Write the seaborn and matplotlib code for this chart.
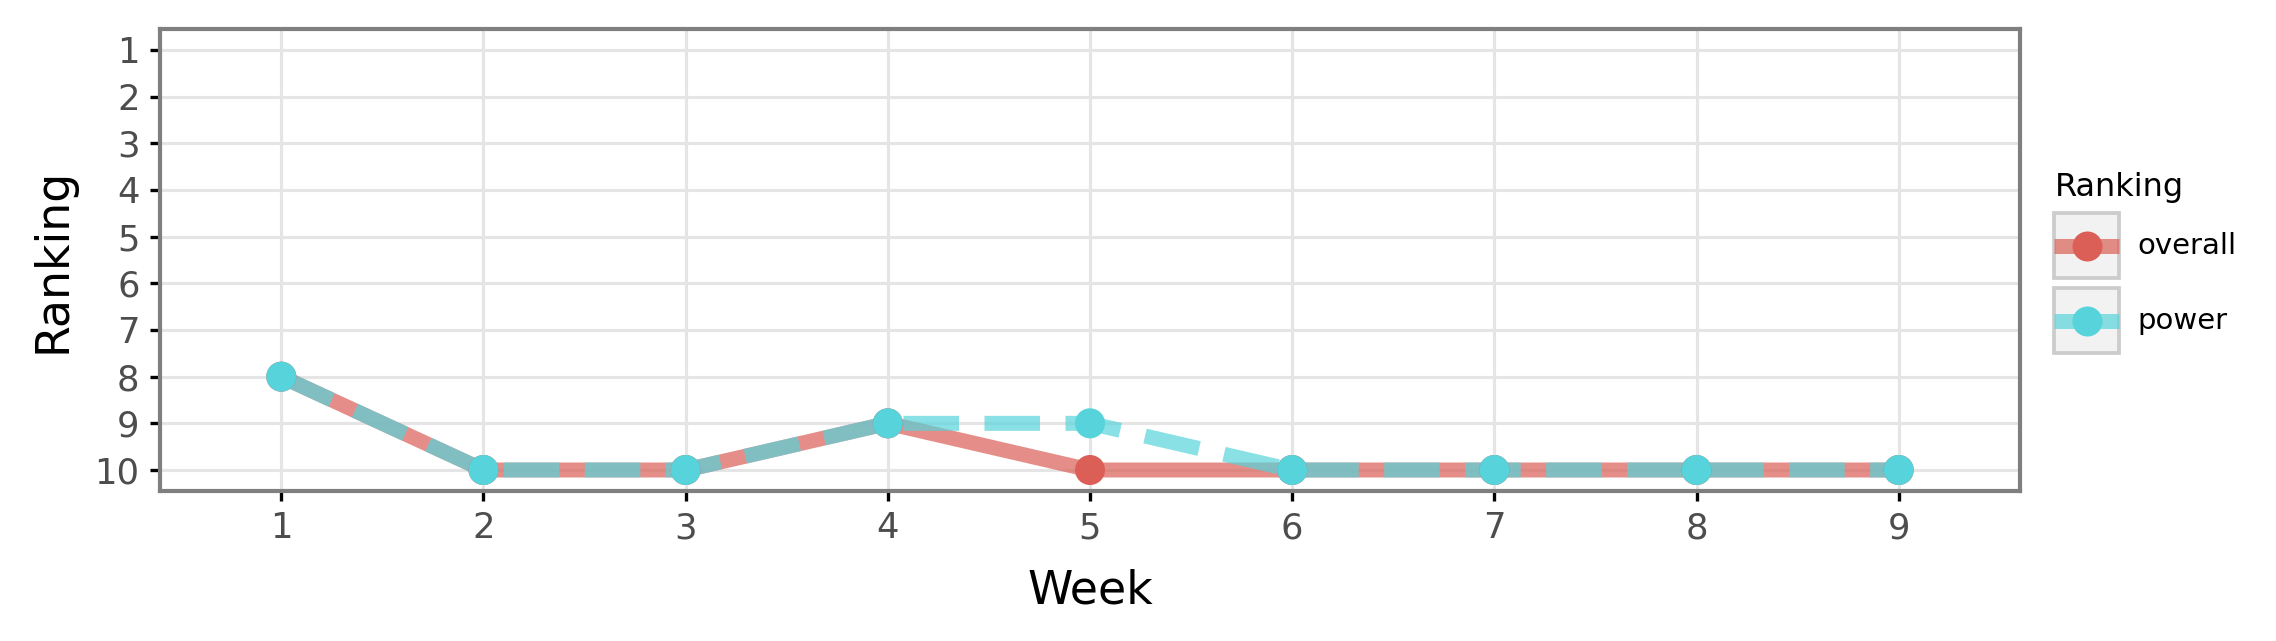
import pandas as pd
import seaborn as sns
import matplotlib.pyplot as plt
from matplotlib.lines import Line2D
from matplotlib.patches import Rectangle
from matplotlib.colors import to_rgba
from matplotlib.legend_handler import HandlerLine2D

weeks = [1, 2, 3, 4, 5, 6, 7, 8, 9]
overall = [8, 10, 10, 9, 10, 10, 10, 10, 10]
power = [8, 10, 10, 9, 9, 10, 10, 10, 10]
series = ['overall', 'power']
colors = {'overall': '#db5f57', 'power': '#57d3db'}

df = pd.concat([
    pd.DataFrame({'Week': weeks, 'Ranking': overall, 'Type': 'overall'}),
    pd.DataFrame({'Week': weeks, 'Ranking': power, 'Type': 'power'}),
], ignore_index=True)

plt.rcParams['font.family'] = ['DejaVu Sans']
plt.rcParams['lines.solid_capstyle'] = 'butt'
fig = plt.figure(figsize=(2276 / 300, 641 / 300), dpi=300)
ax = fig.add_axes([160 / 2276, 1 - 491 / 641, (2020 - 160) / 2276, (491 - 29) / 641])

sns.lineplot(data=df, x='Week', y='Ranking', hue='Type', style='Type', hue_order=series,
             palette=colors, dashes={'overall': '', 'power': (3.7, 1.7)},
             linewidth=3.6, alpha=0.7, legend=False, ax=ax)
sns.scatterplot(data=df, x='Week', y='Ranking', hue='Type', hue_order=series,
                palette=colors, s=52, linewidth=0, legend=False, zorder=3, ax=ax)

ax.set_xlim(0.4, 9.6)
ax.set_ylim(10.45, 0.55)
ax.set_xticks(weeks)
ax.set_yticks(range(1, 11))
ax.grid(True, color='#e5e5e5', linewidth=0.75)
ax.set_axisbelow(True)
for sp in ax.spines.values():
    sp.set_color('#7f7f7f')
    sp.set_linewidth(1.0)
ax.tick_params(length=2.4, width=0.8, color='black', labelcolor='#4d4d4d', labelsize=8.5, pad=2.5)
ax.set_xlabel('Week', fontsize=11, labelpad=5.5)
ax.set_ylabel('Ranking', fontsize=11, labelpad=4.5)


# legend keys with grey background boxes, ggplot style
class KeyHandler(HandlerLine2D):
    def create_artists(self, legend, orig_handle, xdescent, ydescent, width, height, fontsize, trans):
        box = Rectangle((-xdescent, -ydescent), width, height, facecolor='#f2f2f2',
                        edgecolor='#cccccc', linewidth=0.9, transform=trans)
        arts = super().create_artists(legend, orig_handle, xdescent, ydescent, width, height, fontsize, trans)
        mid = height / 2 - ydescent
        for a in arts:
            a.set_ydata([mid] * len(a.get_xdata()))
        return [box] + list(arts)


handles = []
for name in series:
    c = colors[name]
    handles.append(Line2D([], [], color=to_rgba(c, 0.7), linewidth=3.6, marker='o', markersize=7.2,
                          markerfacecolor=to_rgba(c, 1.0), markeredgewidth=0, linestyle='-',
                          solid_capstyle='butt'))

leg = fig.legend(handles, series, title='Ranking', loc='upper left',
                 bbox_to_anchor=(2034 / 2276, 1 - 152 / 641), frameon=False,
                 fontsize=7, title_fontsize=7.7, alignment='left',
                 handlelength=2.23, handleheight=3.05, handletextpad=0.6,
                 labelspacing=0.34, borderpad=0.2,
                 handler_map={Line2D: KeyHandler(numpoints=1)})

fig.savefig('out.png', dpi=300)
